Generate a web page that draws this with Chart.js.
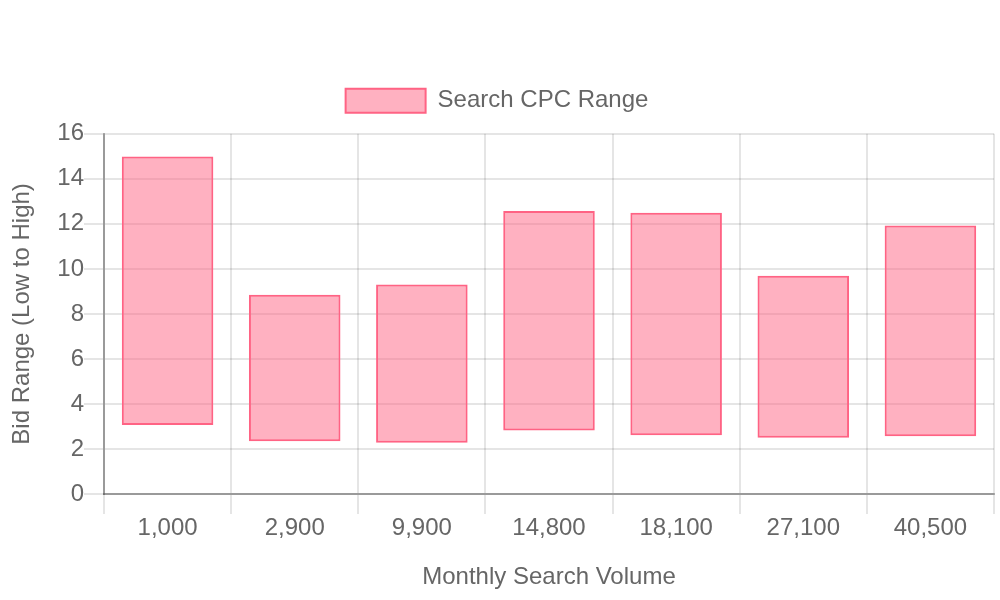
<!DOCTYPE html>
<html lang="en">
<head>
  <meta charset="UTF-8" />
  <title>Search CPC Range</title>
  <script src="https://cdn.jsdelivr.net/npm/chart.js"></script>
  <style>
    body {
      margin: 0;
      background: #ffffff;
    }

    .chart-box {
      width: 1000px;
      height: 600px;
    }
  </style>
</head>
<body>
  <div class="chart-box">
    <canvas id="cpcChart"></canvas>
  </div>

  <script>
    const volumes = ["1,000", "2,900", "9,900", "14,800", "18,100", "27,100", "40,500"];
    const bidLow = [3.07, 2.34, 2.28, 2.82, 2.61, 2.5, 2.57];
    const bidHigh = [14.99, 8.85, 9.31, 12.57, 12.49, 9.69, 11.93];

    Chart.defaults.font.size = 24;
    Chart.defaults.color = "#666";

    const ranges = volumes.map((v, i) => [bidLow[i], bidHigh[i]]);

    // push the plot a bit further below the legend
    const legendGap = {
      id: "legendGap",
      beforeInit(chart) {
        const fit = chart.legend.fit;
        chart.legend.fit = function () {
          fit.call(this);
          this.height += 11;
        };
      }
    };

    const ctx = document.getElementById("cpcChart").getContext("2d");
    new Chart(ctx, {
      type: "bar",
      data: {
        labels: volumes,
        datasets: [{
          label: "Search CPC Range",
          data: ranges,
          backgroundColor: "rgba(255, 99, 132, 0.5)",
          borderColor: "rgb(255, 99, 132)",
          borderWidth: 2,
          borderSkipped: false
        }]
      },
      options: {
        responsive: true,
        maintainAspectRatio: false,
        animation: false,
        layout: {
          padding: { right: 6 }
        },
        plugins: {
          title: {
            display: true,
            text: "",
            padding: 20
          },
          legend: {
            labels: {
              boxWidth: 80,
              boxHeight: 24,
              padding: 20
            }
          }
        },
        scales: {
          x: {
            title: {
              display: true,
              text: "Monthly Search Volume",
              padding: { top: 8, bottom: 8 }
            },
            grid: { lineWidth: 2, tickLength: 20 },
            border: { width: 2, color: "rgba(0, 0, 0, 0.33)" },
            ticks: { padding: 0 },
            afterFit: scale => { scale.height = 106; }
          },
          y: {
            min: 0,
            max: 16,
            title: {
              display: true,
              text: "Bid Range (Low to High)",
              padding: { top: 8, bottom: 8 }
            },
            grid: { lineWidth: 2, tickLength: 20 },
            border: { width: 2, color: "rgba(0, 0, 0, 0.33)" },
            ticks: { padding: 0, stepSize: 2 },
            afterFit: scale => { scale.width = 104; }
          }
        }
      },
      plugins: [legendGap]
    });
  </script>
</body>
</html>
